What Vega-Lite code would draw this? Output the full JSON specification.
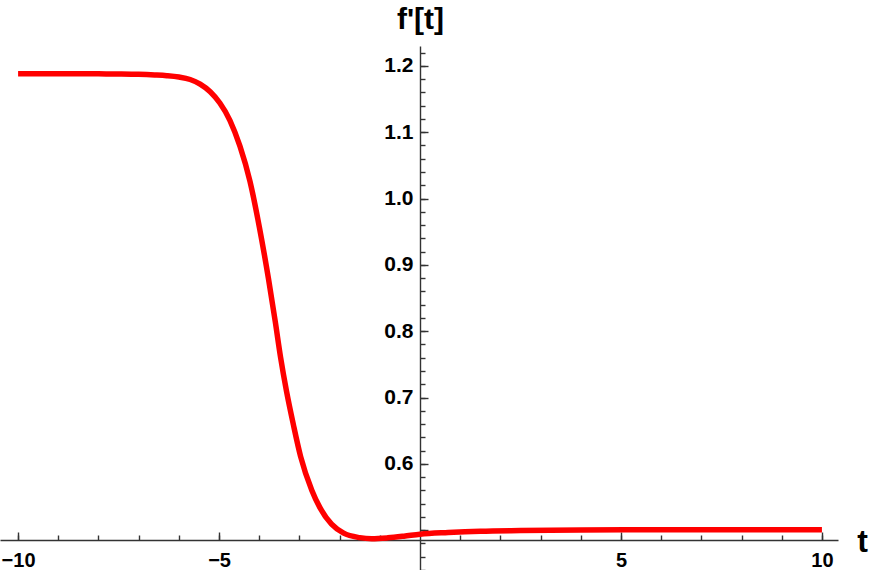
{
  "$schema": "https://vega.github.io/schema/vega-lite/v6.json",
  "width": 838,
  "height": 524,
  "autosize": {"type": "none"},
  "padding": {"left": 0, "top": 46, "right": 34, "bottom": 0},
  "background": "white",
  "config": {
    "view": {"stroke": null},
    "axis": {
      "labelFont": "Liberation Sans",
      "labelFontWeight": "bold",
      "labelFontSize": 21,
      "labelColor": "#000000",
      "titleFont": "Liberation Sans",
      "titleFontWeight": "bold",
      "titleColor": "#000000",
      "domainColor": "#333333",
      "tickColor": "#333333",
      "domainWidth": 1.4,
      "tickWidth": 1.4,
      "grid": false,
      "labelFlush": false,
      "labelOverlap": false
    }
  },
  "data": {
    "values": [
      {"t": -10, "v": 1.188},
      {"t": -9, "v": 1.188},
      {"t": -8, "v": 1.188},
      {"t": -7.5, "v": 1.1878},
      {"t": -7, "v": 1.1873},
      {"t": -6.6, "v": 1.1863},
      {"t": -6.3, "v": 1.1852},
      {"t": -6.0, "v": 1.1832},
      {"t": -5.72, "v": 1.1795},
      {"t": -5.47, "v": 1.1725},
      {"t": -5.22, "v": 1.161},
      {"t": -4.98, "v": 1.144},
      {"t": -4.73, "v": 1.118},
      {"t": -4.48, "v": 1.079},
      {"t": -4.23, "v": 1.026},
      {"t": -4.0, "v": 0.958},
      {"t": -3.77, "v": 0.879},
      {"t": -3.6, "v": 0.814},
      {"t": -3.47, "v": 0.761},
      {"t": -3.32, "v": 0.709},
      {"t": -3.15, "v": 0.659},
      {"t": -2.97, "v": 0.611},
      {"t": -2.69, "v": 0.56},
      {"t": -2.49, "v": 0.534},
      {"t": -2.2, "v": 0.509},
      {"t": -1.9, "v": 0.4955},
      {"t": -1.5, "v": 0.4888},
      {"t": -1.2, "v": 0.4872},
      {"t": -0.8, "v": 0.4885},
      {"t": -0.4, "v": 0.491},
      {"t": 0, "v": 0.494},
      {"t": 0.7, "v": 0.4965},
      {"t": 1.5, "v": 0.4985},
      {"t": 2.5, "v": 0.4995},
      {"t": 4, "v": 0.5003},
      {"t": 6, "v": 0.5006},
      {"t": 8, "v": 0.5007},
      {"t": 10, "v": 0.5007}
    ]
  },
  "layer": [
    {
      "mark": {"type": "line", "opacity": 0},
      "encoding": {
        "x": {
          "field": "t", "type": "quantitative",
          "scale": {"domain": [-10.45, 10.4], "nice": false, "zero": false},
          "axis": {
            "orient": "top", "offset": -494, "title": null,
            "values": [-10, -9, -8, -7, -6, -5, -4, -3, -2, -1, 1, 2, 3, 4, 5, 6, 7, 8, 9, 10],
            "labels": false, "domain": false, "tickSize": 5
          }
        },
        "y": {
          "field": "v", "type": "quantitative",
          "scale": {"domain": [0.44, 1.23], "nice": false, "zero": false},
          "axis": {
            "orient": "right", "offset": -418, "title": null,
            "values": [0.44, 0.46, 0.48, 0.5, 0.52, 0.54, 0.56, 0.58, 0.6, 0.62, 0.64, 0.66, 0.68, 0.7, 0.72, 0.74, 0.76, 0.78, 0.8, 0.82, 0.84, 0.86, 0.88, 0.9, 0.92, 0.94, 0.96, 0.98, 1.0, 1.02, 1.04, 1.06, 1.08, 1.1, 1.12, 1.14, 1.16, 1.18, 1.2, 1.22],
            "labels": false, "domain": false, "tickSize": 5
          }
        }
      }
    },
    {
      "mark": {"type": "line", "color": "#ff0000", "strokeWidth": 5.5, "interpolate": "monotone", "strokeCap": "butt"},
      "encoding": {
        "x": {
          "field": "t", "type": "quantitative",
          "scale": {"domain": [-10.45, 10.4], "nice": false, "zero": false},
          "axis": {
            "orient": "top", "offset": -494,
            "values": [-10, -5, 5, 10],
            "tickSize": 8,
            "labelFontSize": 20,
            "labelPadding": -18,
            "labelBaseline": "top",
            "title": "t",
            "titleFontSize": 32,
            "titleAngle": 0,
            "titleX": 862,
            "titleY": 1,
            "titleAlign": "center",
            "titleBaseline": "middle"
          }
        },
        "y": {
          "field": "v", "type": "quantitative",
          "scale": {"domain": [0.44, 1.23], "nice": false, "zero": false},
          "axis": {
            "orient": "right", "offset": -418,
            "values": [0.5, 0.6, 0.7, 0.8, 0.9, 1.0, 1.1, 1.2],
            "labelExpr": "datum.value < 0.55 ? '' : format(datum.value, '.1f')",
            "tickSize": 8,
            "labelPadding": -15,
            "labelAlign": "right",
            "labelBaseline": "middle",
            "title": "f'[t]",
            "titleFontSize": 30,
            "titleAngle": 0,
            "titleX": 0,
            "titleY": -27,
            "titleAlign": "center",
            "titleBaseline": "middle"
          }
        }
      }
    }
  ],
  "resolve": {
    "scale": {"x": "independent", "y": "independent"},
    "axis": {"x": "independent", "y": "independent"}
  }
}
